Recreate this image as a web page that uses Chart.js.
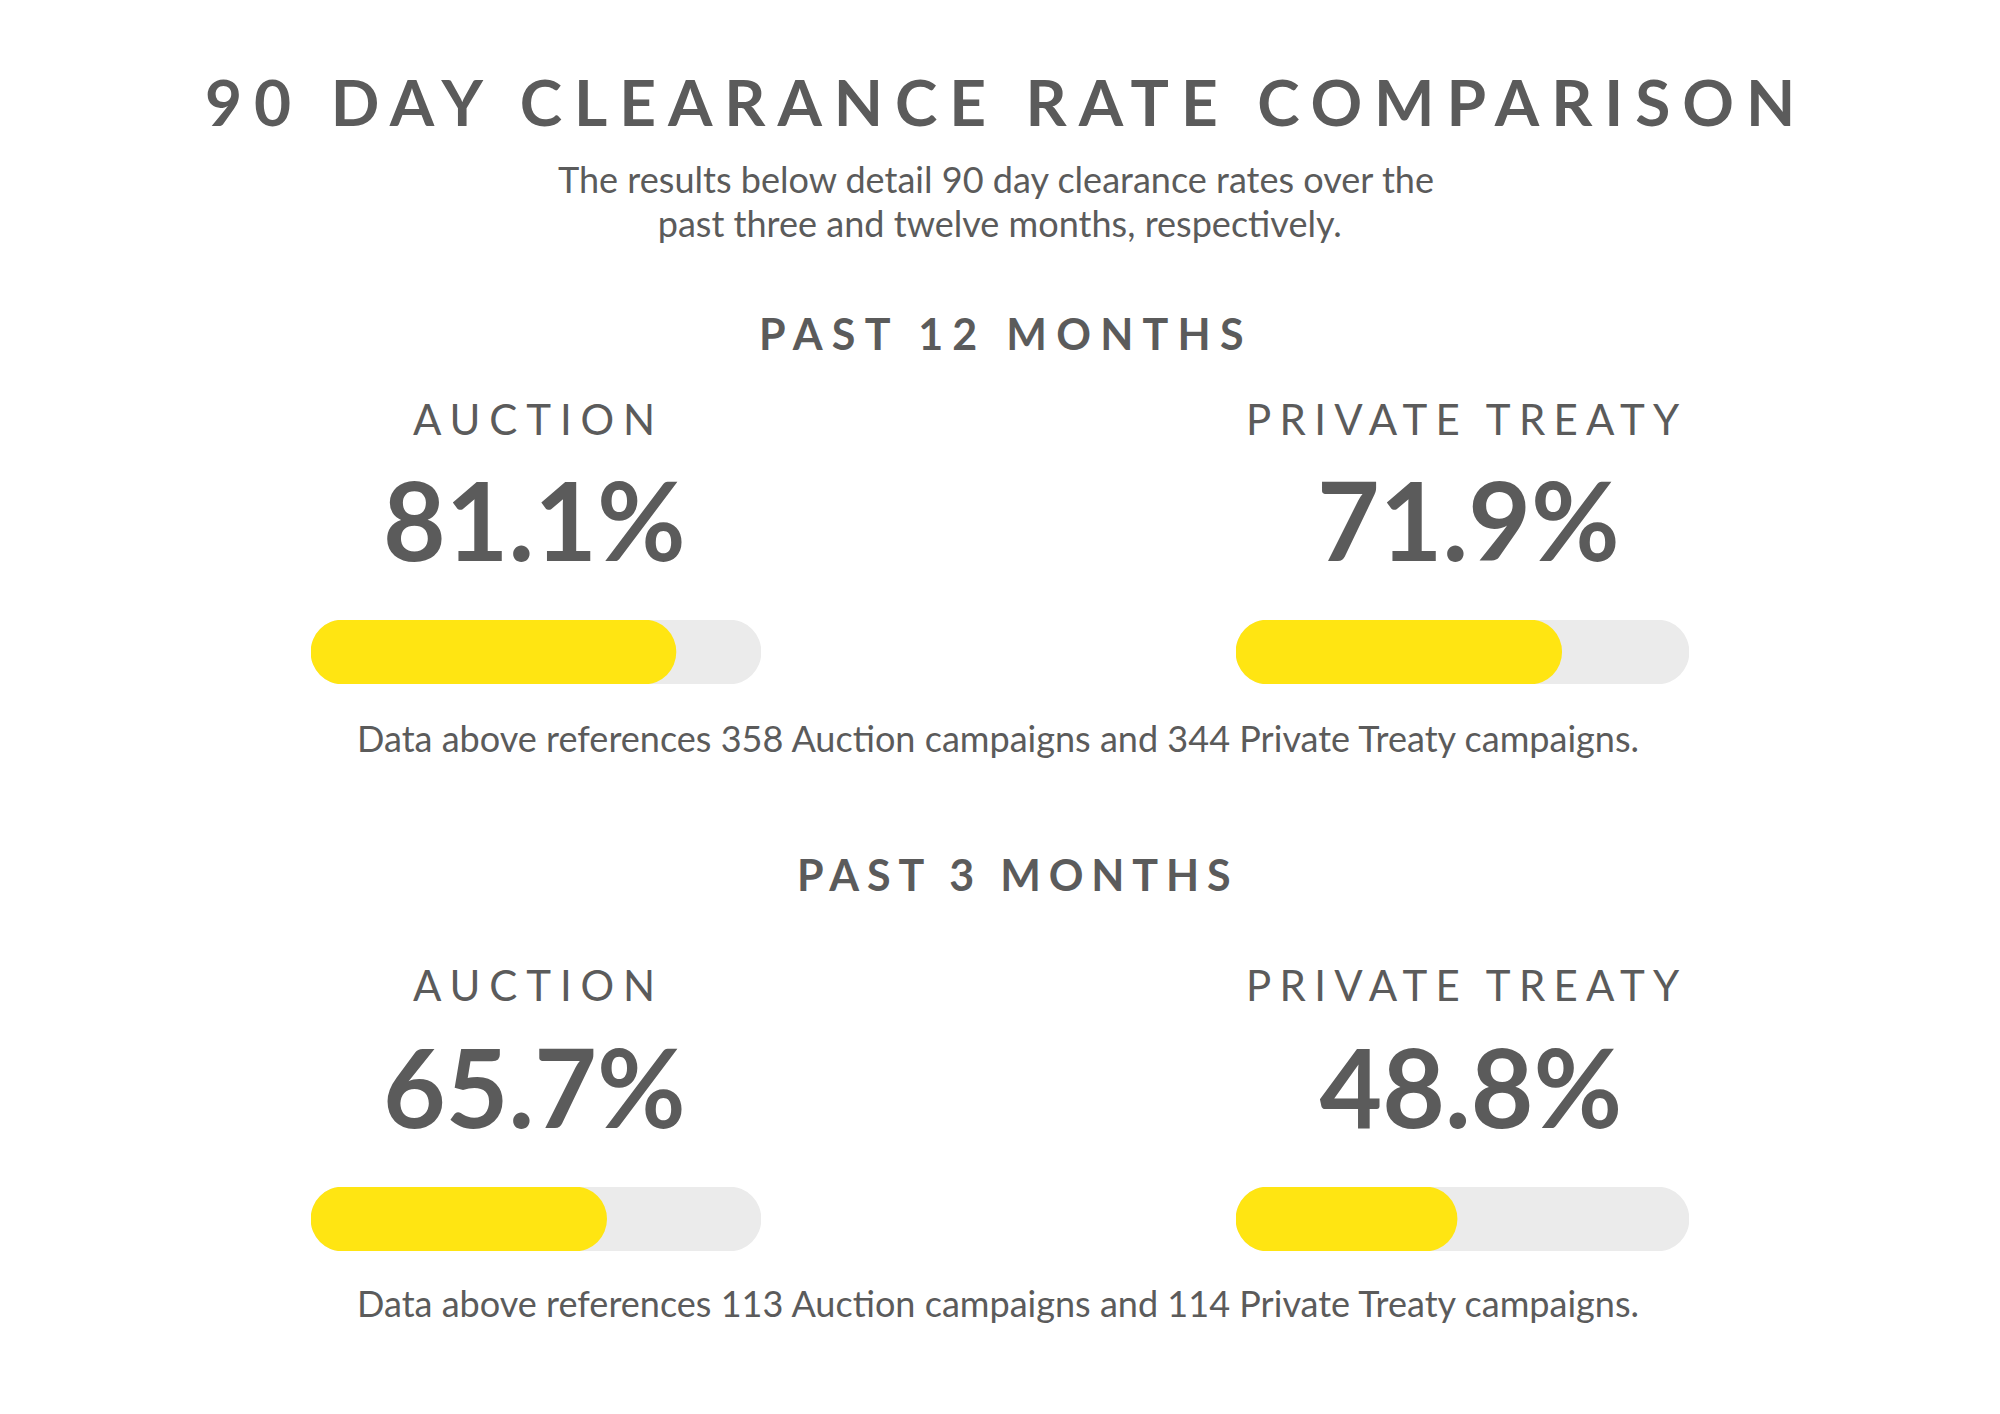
<!DOCTYPE html>
<html><head><meta charset="utf-8">
<script src="https://cdn.jsdelivr.net/npm/chart.js@4.4.1/dist/chart.umd.min.js"></script>
<style>
html,body{margin:0;padding:0;background:#fff;}
#page{position:relative;width:2000px;height:1414px;overflow:hidden;font-family:Lato,sans-serif;color:#5b5b5b;background:#fff;}
.t{position:absolute;white-space:nowrap;line-height:1;margin:0;padding:0;font-family:Lato,sans-serif;}
.bar{position:absolute;}
</style></head><body><div id="page"></div>
<script>
// ---- data ----
const TITLE = '90 DAY CLEARANCE RATE COMPARISON';
const SUBTITLE = ['The results below detail 90 day clearance rates over the', 'past three and twelve months, respectively.'];
const periods = ['PAST 12 MONTHS', 'PAST 3 MONTHS'];
const methods = ['AUCTION', 'PRIVATE TREATY'];
const rates12 = [81.1, 71.9];
const rates3 = [65.7, 48.8];
const campaigns12 = [358, 344];
const campaigns3 = [113, 114];
const rateMax = 100;

// ---- style / layout ----
const COLORS = {text: '#5b5b5b', fill: '#ffe512', track: '#ebebeb'};
const page = document.getElementById('page');
page.style.color = COLORS.text;
const mc = document.createElement('canvas').getContext('2d');

function measure(text, weight, size) {
  mc.font = weight + ' ' + size + 'px Lato';
  try { mc.letterSpacing = '0px'; } catch (e) {}
  return mc.measureText(text);
}

// places text so that its ink spans [left,right] (or is centred) with baseline at o.baseline
function place(text, o) {
  const w = o.weight || 400;
  const n = text.length;
  const el = document.createElement('div');
  el.className = 't';
  el.textContent = text;
  el.style.fontWeight = w;
  page.appendChild(el);
  let size = o.size || 40, ls = 0, m, lb, rb;
  function apply() {
    el.style.fontSize = size + 'px';
    el.style.letterSpacing = ls + 'px';
    m = measure(text, w, size);
    lb = -m.actualBoundingBoxLeft;
    rb = m.width - m.actualBoundingBoxRight;
  }
  function domInk() { return el.getBoundingClientRect().width - ls - lb - rb; }
  const target = (o.right !== undefined) ? o.right - o.left : null;
  if (!o.size && target) {
    m = measure(text, w, 100);
    size = 100 * target / (m.actualBoundingBoxLeft + m.actualBoundingBoxRight);
    for (let i = 0; i < 4; i++) { apply(); size *= target / domInk(); }
  }
  if (o.spaced && target) {
    apply();
    ls = (target - domInk()) / (n - 1);
    for (let i = 0; i < 4; i++) { apply(); ls += (target - domInk()) / (n - 1); }
  }
  apply();
  const ink = domInk();
  const asc = m.fontBoundingBoxAscent, desc = m.fontBoundingBoxDescent;
  const baseOff = (size - (asc + desc)) / 2 + asc;
  el.style.top = (o.baseline - baseOff) + 'px';
  const inkLeft = (o.center !== undefined) ? o.center - ink / 2 : o.left;
  el.style.left = (inkLeft - lb) + 'px';
  return size;
}

function bar(value, x, y, w, h) {
  const box = document.createElement('div');
  box.className = 'bar';
  Object.assign(box.style, {left: x + 'px', top: y + 'px', width: w + 'px', height: h + 'px'});
  const cv = document.createElement('canvas');
  box.appendChild(cv);
  page.appendChild(box);
  const common = {borderRadius: h / 2, borderSkipped: false, grouped: false, barPercentage: 1, categoryPercentage: 1, borderWidth: 0};
  new Chart(cv, {
    type: 'bar',
    data: {labels: [''], datasets: [
      Object.assign({data: [value], backgroundColor: COLORS.fill, order: 0}, common),
      Object.assign({data: [rateMax], backgroundColor: COLORS.track, order: 1}, common)
    ]},
    options: {
      indexAxis: 'y', responsive: true, maintainAspectRatio: false, animation: false,
      layout: {padding: 0}, events: [],
      plugins: {legend: {display: false}, tooltip: {enabled: false}},
      scales: {x: {display: false, min: 0, max: rateMax}, y: {display: false}}
    }
  });
}

// title + subtitle
place(TITLE, {left: 207, right: 1791, baseline: 126, size: 64, weight: 700, spaced: true});
const subSize = place(SUBTITLE[0], {left: 558, right: 1433, baseline: 193});
place(SUBTITLE[1], {center: 1000, baseline: 237, size: subSize});

const sections = [
  {rates: rates12, counts: campaigns12, head: {left: 762, right: 1243, baseline: 350},
   labelBase: 435, valueBase: 561, barTop: 620, noteBase: 752},
  {rates: rates3, counts: campaigns3, head: {left: 800, right: 1230, baseline: 891},
   labelBase: 1001, valueBase: 1128, barTop: 1187, noteBase: 1317}
];
const cols = [
  {label: [413, 652], center: 534.5, bar: [311, 450]},
  {label: [1249, 1680], center: 1469, bar: [1236, 453]}
];

// value font size from the first value's width
const valueSize = (() => {
  const s = place(rates12[0].toFixed(1) + '%', {left: 387, right: 682, baseline: -500, weight: 700});
  page.lastChild.remove();
  return s;
})();

sections.forEach((s, si) => {
  place(periods[si], Object.assign({size: 43, weight: 700, spaced: true}, s.head));
  cols.forEach((c, ci) => {
    place(methods[ci], {left: c.label[0], right: c.label[1], baseline: s.labelBase, size: 42, weight: 400, spaced: true});
    place(s.rates[ci].toFixed(1) + '%', {center: c.center, baseline: s.valueBase, size: valueSize, weight: 700});
    bar(s.rates[ci], c.bar[0], s.barTop, c.bar[1], 64);
  });
  place('Data above references ' + s.counts[0] + ' Auction campaigns and ' + s.counts[1] + ' Private Treaty campaigns.',
        {left: 360, right: 1638, baseline: s.noteBase});
});
</script></body></html>
